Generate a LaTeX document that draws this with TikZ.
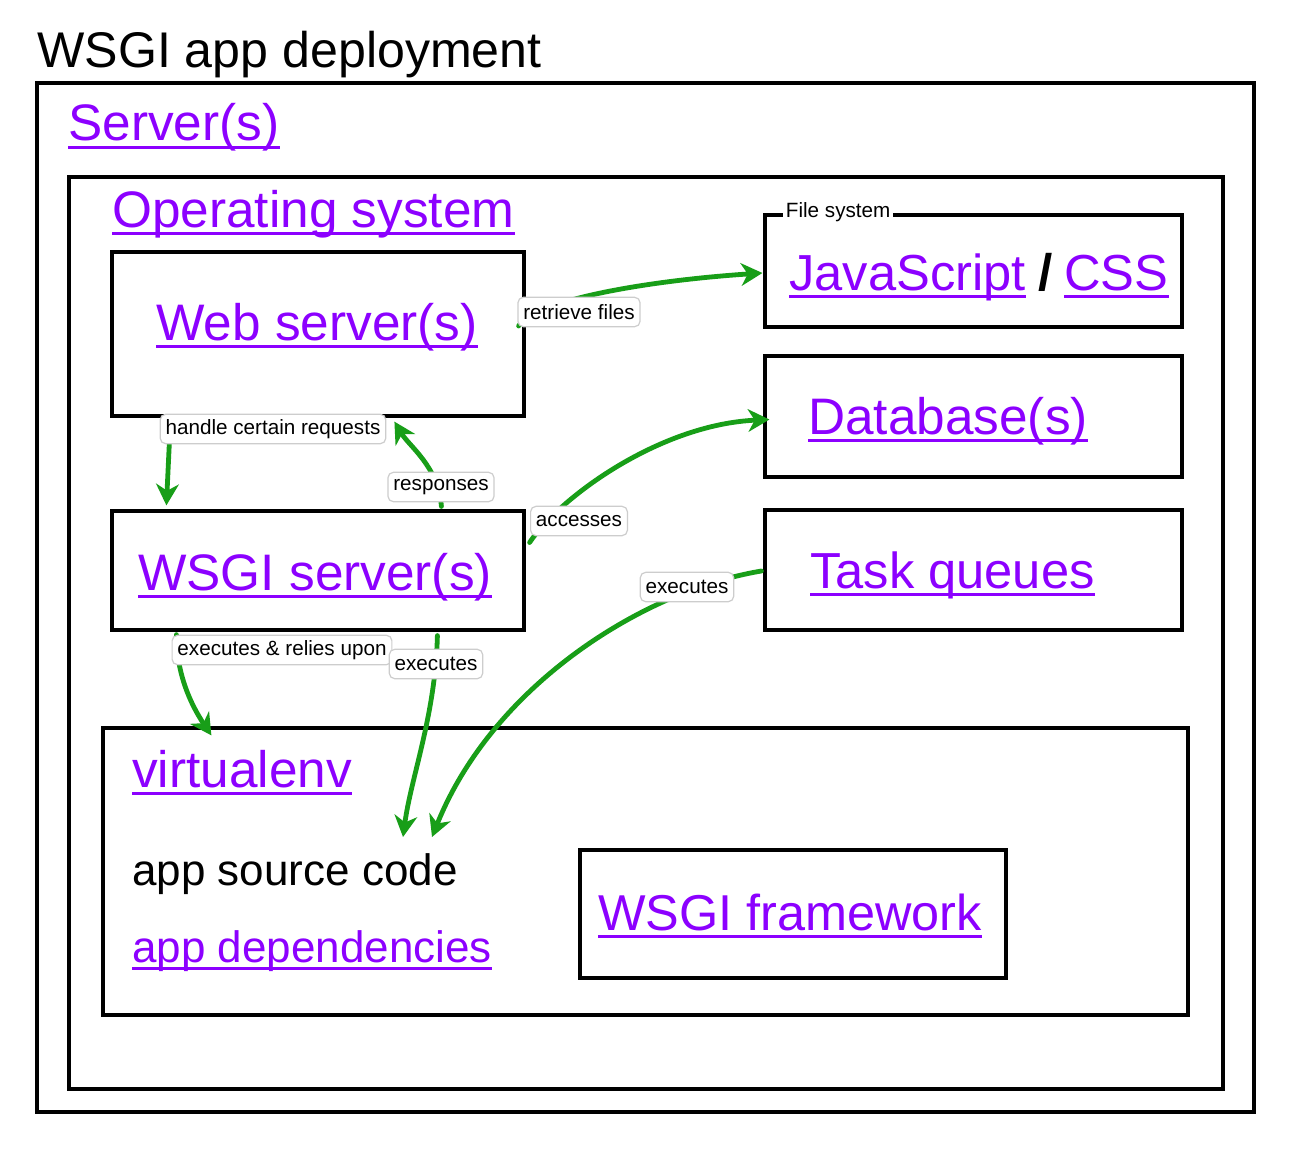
\documentclass[tikz,border=0pt]{standalone}
\usepackage{fontspec}
\setmainfont{Liberation Sans}
\usetikzlibrary{arrows.meta,calc,fit}
\definecolor{linkc}{RGB}{140,0,255}
\definecolor{arrg}{RGB}{24,158,24}
\definecolor{lblborder}{RGB}{205,205,205}
\tikzset{
  box/.style={draw=black, line width=2.4pt, inner sep=0pt},
  link/.style={text=linkc, inner sep=0pt, anchor=base west,
    font=\fontsize{38.5}{44}\selectfont,
    append after command={([yshift=-4.6pt]\tikzlastnode.base west) edge[draw=linkc, line width=2.1pt] ([yshift=-4.6pt]\tikzlastnode.base east)}},
  smalllink/.style={link, font=\fontsize{33}{38}\selectfont},
  plain/.style={inner sep=0pt, anchor=base west},
  lbl/.style={draw=lblborder, fill=white, rounded corners=4pt, line width=0.9pt,
    font=\fontsize{15.5}{18}\selectfont, inner xsep=4pt, inner ysep=0pt,
    minimum height=22pt},
  arr/.style={draw=arrg, line width=3.6pt, line cap=round,
    -{Stealth[length=16pt,width=17pt,inset=5pt]}}
}
\begin{document}
\begin{tikzpicture}[x=0.75pt,y=-0.75pt]
\useasboundingbox[fill=white] (0,0) rectangle (1298,1170);

% title
\node[plain, font=\fontsize{37.6}{42}\selectfont] (title) at (37,68) {WSGI app deployment};

% boxes
\node[box, fit={(37,83) (1254,1112)}] (outer) {};
\node[box, fit={(69,177) (1223,1089)}] (os) {};
\node[box, fit={(112,252) (524,416)}] (web) {};
\node[box, fit={(765,215) (1182,327)}] (fs) {};
\node[box, fit={(765,356) (1182,477)}] (db) {};
\node[box, fit={(765,510) (1182,630)}] (tq) {};
\node[box, fit={(112,511) (524,630)}] (wsgi) {};
\node[box, fit={(103,728) (1188,1015)}] (venv) {};
\node[box, fit={(580,850) (1006,978)}] (fw) {};

% texts
\node[link] (tsrv) at (68,141) {Server(s)};
\node[link] (tos) at (112,227) {Operating system};
\node[link] (tweb) at (156,340) {Web server(s)};
\node[fill=white, inner sep=2pt, anchor=west, font=\fontsize{15.5}{18}\selectfont] (tfs) at (783,212) {File system};
\node[link, font=\fontsize{38}{44}\selectfont] (tjs) at (789,290) {JavaScript};
\node[plain, font=\bfseries\fontsize{38.5}{44}\selectfont] (tslash) at (1038,290) {/};
\node[link, font=\fontsize{38}{44}\selectfont] (tcss) at (1064,290) {CSS};
\node[link] (tdb) at (808,434) {Database(s)};
\node[link, font=\fontsize{38}{44}\selectfont] (ttq) at (810,588) {Task queues};
\node[link] (twsgi) at (138,590) {WSGI server(s)};
\node[link] (tvenv) at (132,787) {virtualenv};
\node[plain, font=\fontsize{33}{38}\selectfont] (tsrc) at (132,885) {app source code};
\node[smalllink] (tdep) at (132,962) {app dependencies};
\node[link, font=\fontsize{37.8}{44}\selectfont] (tfw) at (598,930) {WSGI framework};

\coordinate (src1) at ($(tsrc.base west)+(271,-48)$);
\coordinate (src2) at ($(tsrc.base west)+(300,-48)$);

% connectors
\draw[arr] ($(web.east)+(-7,-8)$) .. controls +(15,-25) and +(-120,8) .. ($(fs.west)+(-1,2)$);
\draw[arr] ($(web.south west)+(60,3)$) -- ($(wsgi.north west)+(56,-4)$);
\draw[arr] ($(wsgi.north west)+(331,-3)$) .. controls +(-3,-40) and +(15,25) .. ($(web.south west)+(284,4)$);
\draw[arr] ($(wsgi.east)+(4,-28)$) .. controls +(30,-45) and +(-110,5) .. ($(db.west)+(6,3)$);
\draw[arr] ($(tq.west)+(-2,1)$) .. controls +(-120,20) and +(60,-150) .. (src2);
\draw[arr] ($(wsgi.south west)+(66,3)$) .. controls +(0,40) and +(-20,-30) .. ($(venv.north west)+(110,9)$);
\draw[arr] ($(wsgi.south west)+(327,4)$) .. controls +(-2,80) and +(8,-60) .. (src1);

% connector labels
\node[lbl] (l1) at (579,312) {retrieve files};
\node[lbl] (l2) at (273,429) {handle certain requests};
\node[lbl] (l3) at (441,487) {responses};
\node[lbl] (l4) at (579,521) {accesses};
\node[lbl] (l5) at (687,587) {executes};
\node[lbl] (l6) at (282,650) {executes \& relies upon};
\node[lbl] (l7) at (436,664) {executes};
\end{tikzpicture}
\end{document}
